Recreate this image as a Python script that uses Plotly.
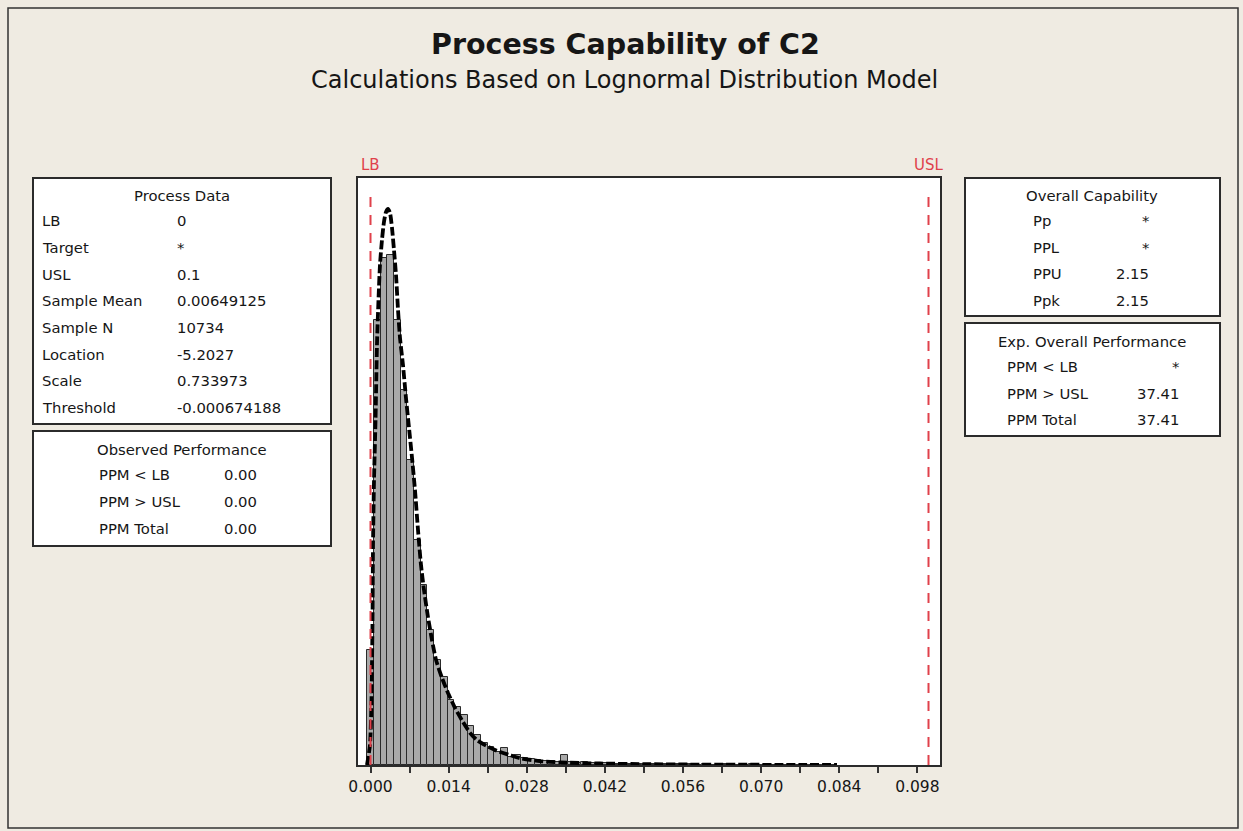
import plotly.graph_objects as go

# ---------------- data ----------------
bin_centers = [0.0000, 0.0012, 0.0024, 0.0036, 0.0048, 0.0060, 0.0072, 0.0084, 0.0096, 0.0108,
               0.0120, 0.0132, 0.0144, 0.0156, 0.0168, 0.0180, 0.0192, 0.0204, 0.0216, 0.0228,
               0.0240, 0.0252, 0.0264, 0.0276, 0.0288, 0.0300, 0.0312, 0.0324, 0.0336, 0.0348,
               0.0360, 0.0372, 0.0384, 0.0396, 0.0408, 0.0420, 0.0432, 0.0444, 0.0456, 0.0468,
               0.0480, 0.0492, 0.0504, 0.0516, 0.0528, 0.0540, 0.0552, 0.0564, 0.0576, 0.0588,
               0.0600, 0.0612, 0.0624, 0.0636, 0.0648, 0.0660, 0.0672, 0.0684, 0.0696, 0.0708,
               0.0720, 0.0732, 0.0744, 0.0756, 0.0768, 0.0780, 0.0792, 0.0804, 0.0816, 0.0828]
bin_density = [26.8, 103.7, 118.2, 118.9, 103.7, 87.4, 71.1, 52.4, 42.0, 31.5,
               24.5, 20.5, 15.2, 13.5, 11.7, 9.1, 7.0, 5.1, 4.2, 3.0,
               4.0, 1.9, 2.3, 1.6, 1.4, 1.2, 0.9, 0.9, 0.8, 2.3,
               0.7, 0.5, 0.6, 0.5, 0.4, 0.4, 0.35, 0.3, 0.3, 0.25,
               0.3, 0.2, 0.25, 0.2, 0.2, 0.15, 0.2, 0.15, 0.15, 0.1,
               0.15, 0.1, 0.1, 0.15, 0.1, 0.1, 0.1, 0.15, 0.1, 0.1,
               0.1, 0.1, 0.1, 0.1, 0.1, 0.1, 0.1, 0.1, 0.1, 0.1]

curve_x = [-0.00063, -0.00009, 0.00018, 0.00036, 0.00045, 0.00063, 0.0009, 0.00116, 0.00143, 0.0017,
           0.00206, 0.00242, 0.00278, 0.00314, 0.00349, 0.00385, 0.00421, 0.00457, 0.00493, 0.00529,
           0.00582, 0.00636, 0.0069, 0.00744, 0.00797, 0.00851, 0.00905, 0.00959, 0.0103, 0.01102,
           0.01174, 0.01281, 0.01389, 0.01514, 0.01658, 0.01783, 0.01909, 0.02088, 0.02267, 0.025,
           0.0268, 0.03038, 0.03396, 0.04113, 0.05009, 0.05905, 0.07697, 0.0836]
curve_y = [0.0, 4.7, 15.2, 33.8, 51.3, 66.4, 80.4, 97.9, 108.4, 116.6,
           122.4, 126.6, 128.9, 129.6, 128.7, 125.2, 120.0, 114.2, 106.1, 99.5,
           93.2, 85.5, 78.6, 71.6, 64.1, 54.8, 46.6, 40.8, 34.5, 29.1,
           24.5, 20.3, 16.8, 13.3, 10.0, 7.5, 5.8, 4.4, 3.3, 2.3,
           1.6, 0.9, 0.6, 0.35, 0.19, 0.09, 0.03, 0.0]

LB = 0.0
USL = 0.1
tick_vals = [0.000, 0.014, 0.028, 0.042, 0.056, 0.070, 0.084, 0.098]
tick_text = ["0.000", "0.014", "0.028", "0.042", "0.056", "0.070", "0.084", "0.098"]

title_text = "Process Capability of C2"
subtitle_text = "Calculations Based on Lognormal Distribution Model"

process_labels = ["LB", "Target", "USL", "Sample Mean", "Sample N", "Location", "Scale", "Threshold"]
process_values = ["0", "*", "0.1", "0.00649125", "10734", "-5.2027", "0.733973", "-0.000674188"]
observed_labels = ["PPM < LB", "PPM > USL", "PPM Total"]
observed_values = ["0.00", "0.00", "0.00"]
capability_labels = ["Pp", "PPL", "PPU", "Ppk"]
capability_values = ["*", "*", "2.15", "2.15"]
expected_labels = ["PPM < LB", "PPM > USL", "PPM Total"]
expected_values = ["*", "37.41", "37.41"]

# ---------------- layout geometry (pixels) ----------------
W, H = 1243, 831
PL, PR, PT, PB = 358, 940, 178, 765
BG = "#EFEBE2"
TXT = "#161616"
RED = "#E0414B"
FONT = "DejaVu Sans"
FS = 14.8


def px(x):
    return (x - PL) / (PR - PL)


def py(y):
    return 1 - (y - PT) / (PB - PT)


fig = go.Figure()

fig.add_trace(go.Bar(
    x=bin_centers, y=bin_density, width=0.0012,
    marker=dict(color="#A9A9A9", line=dict(color="#2a2a2a", width=1)),
    hoverinfo="skip", showlegend=False))

fig.add_trace(go.Scatter(
    x=curve_x, y=curve_y, mode="lines",
    line=dict(color="black", width=3.8, dash="9px,3px", shape="spline", smoothing=0.6),
    hoverinfo="skip", showlegend=False))

shapes = []
for v in (LB, USL):
    shapes.append(dict(type="line", xref="x", yref="paper", x0=v, x1=v, y0=0, y1=py(190),
                       line=dict(color=RED, width=2, dash="10px,8px")))

boxes = [(33, 178, 331, 424), (33, 431, 331, 546), (965, 178, 1220, 316), (965, 323, 1220, 436)]
for (x0, y0, x1, y1) in boxes:
    shapes.append(dict(type="rect", xref="paper", yref="paper",
                       x0=px(x0), x1=px(x1), y0=py(y0), y1=py(y1),
                       fillcolor="white", line=dict(color="#2b2b2b", width=2), layer="below"))

shapes.append(dict(type="rect", xref="paper", yref="paper",
                   x0=px(8), x1=px(1238), y0=py(8), y1=py(828),
                   fillcolor="rgba(0,0,0,0)", line=dict(color="#333333", width=1.5)))

ann = []


def text(x, y, s, size=FS, anchor="left", color=TXT, bold=False, family=FONT):
    ann.append(dict(x=px(x), y=py(y), xref="paper", yref="paper", text=("<b>%s</b>" % s) if bold else s,
                    showarrow=False, xanchor=anchor, yanchor="middle",
                    font=dict(family=family, size=size, color=color)))


text(625, 44, title_text, size=28.5, anchor="center", bold=True)
text(624, 80, subtitle_text, size=24, anchor="center")

text(370, 165, "LB", size=15, anchor="center", color=RED)
text(929, 165, "USL", size=15, anchor="center", color=RED)

text(182, 195, "Process Data", anchor="center")
for i, (l, v) in enumerate(zip(process_labels, process_values)):
    y = 221 + i * 26.6
    text(40, y, l)
    text(175, y, v)

text(182, 449, "Observed Performance", anchor="center")
for i, (l, v) in enumerate(zip(observed_labels, observed_values)):
    y = 475 + i * 26.6
    text(97, y, l)
    text(222, y, v)

text(1092, 195, "Overall Capability", anchor="center")
for i, (l, v) in enumerate(zip(capability_labels, capability_values)):
    y = 221 + i * 26.4
    text(1031, y, l)
    text(1151, y, v, anchor="right")

text(1092, 341, "Exp. Overall Performance", anchor="center")
for i, (l, v) in enumerate(zip(expected_labels, expected_values)):
    y = 367 + i * 26.4
    text(1005, y, l)
    text(1181, y, v, anchor="right")

fig.update_layout(
    width=W, height=H,
    margin=dict(l=PL, r=W - PR, t=PT, b=H - PB, pad=0),
    paper_bgcolor=BG, plot_bgcolor="white",
    bargap=0, showlegend=False,
    shapes=shapes, annotations=ann,
    xaxis=dict(range=[-0.00224, 0.10206], tickvals=tick_vals, ticktext=tick_text,
               ticks="outside", ticklen=6, tickwidth=1.5, tickcolor="#333333",
               minor=dict(dtick=0.007, tick0=0, ticks="outside", ticklen=6, tickwidth=1.5, tickcolor="#333333"),
               showgrid=False, zeroline=False, showline=True, linecolor="#2b2b2b", linewidth=2, mirror=True,
               tickfont=dict(family=FONT, size=15.5, color=TXT)),
    yaxis=dict(range=[0, 136.8], showticklabels=False, ticks="", showgrid=False, zeroline=False,
               showline=True, linecolor="#2b2b2b", linewidth=2, mirror=True),
)

fig.write_html("out.html", config={"displayModeBar": False},
               post_script="document.body.style.margin='0';document.body.style.background='%s';" % BG)
